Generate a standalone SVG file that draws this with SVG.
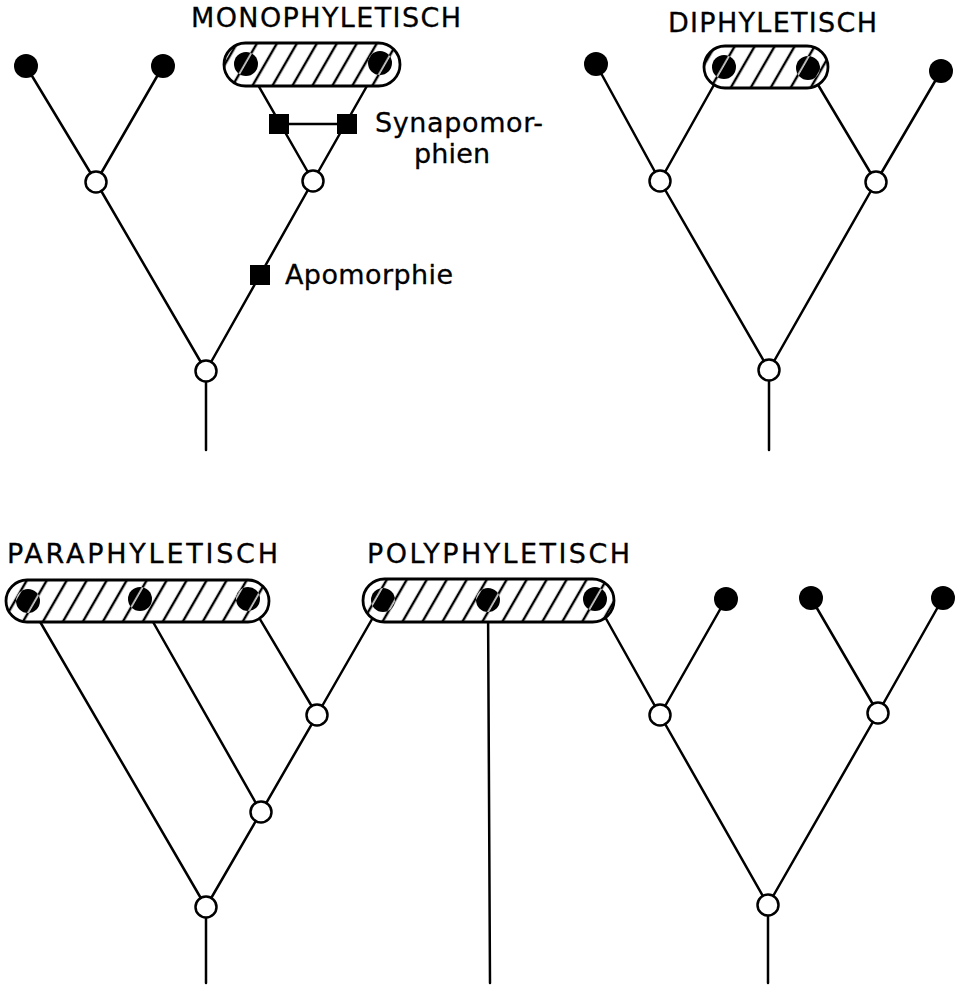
<svg xmlns="http://www.w3.org/2000/svg" width="958" height="985" viewBox="0 0 958 985">
<style>
.br{stroke:#000;stroke-width:2.5;fill:none;stroke-linecap:round}
.leaf{fill:#000}
.inleaf{fill:url(#whatch)}
.anc{fill:#fff;stroke:#000;stroke-width:2.5}
.apo{fill:#000}
.pill{fill:url(#hatch);stroke:#000;stroke-width:2.8}
.t{font-family:"DejaVu Sans","Liberation Sans",sans-serif;font-size:27px;fill:#000;stroke:#000;stroke-width:0.3}
</style>
<defs>
<pattern id="hatch" patternUnits="userSpaceOnUse" width="17.3" height="20" patternTransform="rotate(30)">
<rect width="17.3" height="20" fill="#fff"/>
<line x1="2" y1="-1" x2="2" y2="21" stroke="#000" stroke-width="2.4"/>
</pattern>
<pattern id="whatch" patternUnits="userSpaceOnUse" width="17.3" height="20" patternTransform="rotate(30)">
<rect width="17.3" height="20" fill="#000"/>
<line x1="2" y1="-1" x2="2" y2="21" stroke="#fff" stroke-width="1.4"/>
</pattern>
</defs>
<rect width="958" height="985" fill="#fff"/>

<g id="connectors">
<line class="br" x1="26" y1="66" x2="96" y2="182"/>
<line class="br" x1="163" y1="66" x2="96" y2="182"/>
<line class="br" x1="96" y1="182" x2="206" y2="371"/>
<line class="br" x1="313" y1="181" x2="206" y2="371"/>
<line class="br" x1="246" y1="64" x2="313" y2="181"/>
<line class="br" x1="380" y1="63" x2="313" y2="181"/>
<line class="br" x1="279" y1="124" x2="347" y2="124"/>
<line class="br" x1="206" y1="371" x2="206" y2="450"/>
<line class="br" x1="596" y1="64" x2="660" y2="181"/>
<line class="br" x1="724" y1="67" x2="660" y2="181"/>
<line class="br" x1="808" y1="68" x2="876" y2="182"/>
<line class="br" x1="941" y1="71" x2="876" y2="182"/>
<line class="br" x1="660" y1="181" x2="769" y2="370"/>
<line class="br" x1="876" y1="182" x2="769" y2="370"/>
<line class="br" x1="769" y1="370" x2="769" y2="450"/>
<line class="br" x1="28" y1="601" x2="206" y2="907"/>
<line class="br" x1="140" y1="599" x2="261" y2="812"/>
<line class="br" x1="248" y1="599" x2="317" y2="715"/>
<line class="br" x1="383" y1="600" x2="317" y2="715"/>
<line class="br" x1="317" y1="715" x2="261" y2="812"/>
<line class="br" x1="261" y1="812" x2="206" y2="907"/>
<line class="br" x1="206" y1="907" x2="206" y2="983"/>
<line class="br" x1="488" y1="600" x2="490" y2="983"/>
<line class="br" x1="595" y1="599" x2="660" y2="715"/>
<line class="br" x1="726" y1="599" x2="660" y2="715"/>
<line class="br" x1="811" y1="598" x2="878" y2="713"/>
<line class="br" x1="943" y1="598" x2="878" y2="713"/>
<line class="br" x1="660" y1="715" x2="768" y2="905"/>
<line class="br" x1="878" y1="713" x2="768" y2="905"/>
<line class="br" x1="768" y1="905" x2="768" y2="983"/>
</g>

<g id="mono-group"><rect class="pill" x="224" y="43" width="176" height="43" rx="21.5"/></g>
<g id="di-group"><rect class="pill" x="704" y="46" width="124" height="42" rx="21"/></g>
<g id="para-group"><rect class="pill" x="6" y="580" width="263" height="42" rx="21"/></g>
<g id="poly-group"><rect class="pill" x="363" y="579" width="251" height="43" rx="21.5"/></g>

<g id="m-leaf1"><circle class="leaf" cx="26" cy="66" r="12"/></g>
<g id="m-leaf2"><circle class="leaf" cx="163" cy="66" r="12"/></g>
<g id="m-leaf3"><circle class="inleaf" cx="246" cy="64" r="12"/></g>
<g id="m-leaf4"><circle class="inleaf" cx="380" cy="63" r="12"/></g>
<g id="m-anc1"><circle class="anc" cx="96" cy="182" r="10.5"/></g>
<g id="m-anc2"><circle class="anc" cx="313" cy="181" r="10.5"/></g>
<g id="m-root"><circle class="anc" cx="206" cy="371" r="10.5"/></g>
<g id="m-syn1"><rect class="apo" x="269" y="114" width="20" height="20"/></g>
<g id="m-syn2"><rect class="apo" x="337" y="114" width="20" height="20"/></g>
<g id="m-apo"><rect class="apo" x="250" y="265" width="20" height="20"/></g>

<g id="d-leaf1"><circle class="leaf" cx="596" cy="64" r="12"/></g>
<g id="d-leaf2"><circle class="inleaf" cx="724" cy="67" r="12"/></g>
<g id="d-leaf3"><circle class="inleaf" cx="808" cy="68" r="12"/></g>
<g id="d-leaf4"><circle class="leaf" cx="941" cy="71" r="12"/></g>
<g id="d-anc1"><circle class="anc" cx="660" cy="181" r="10.5"/></g>
<g id="d-anc2"><circle class="anc" cx="876" cy="182" r="10.5"/></g>
<g id="d-root"><circle class="anc" cx="769" cy="370" r="10.5"/></g>

<g id="p-leaf1"><circle class="inleaf" cx="28" cy="601" r="12"/></g>
<g id="p-leaf2"><circle class="inleaf" cx="140" cy="599" r="12"/></g>
<g id="p-leaf3"><circle class="inleaf" cx="248" cy="599" r="12"/></g>
<g id="p-anc1"><circle class="anc" cx="317" cy="715" r="10.5"/></g>
<g id="p-anc2"><circle class="anc" cx="261" cy="812" r="10.5"/></g>
<g id="p-root"><circle class="anc" cx="206" cy="907" r="10.5"/></g>

<g id="q-leaf1"><circle class="inleaf" cx="383" cy="600" r="12"/></g>
<g id="q-leaf2"><circle class="inleaf" cx="488" cy="600" r="12"/></g>
<g id="q-leaf3"><circle class="inleaf" cx="595" cy="599" r="12"/></g>
<g id="q-leaf4"><circle class="leaf" cx="726" cy="599" r="12"/></g>
<g id="q-leaf5"><circle class="leaf" cx="811" cy="598" r="12"/></g>
<g id="q-leaf6"><circle class="leaf" cx="943" cy="598" r="12"/></g>
<g id="q-anc1"><circle class="anc" cx="660" cy="715" r="10.5"/></g>
<g id="q-anc2"><circle class="anc" cx="878" cy="713" r="10.5"/></g>
<g id="q-root"><circle class="anc" cx="768" cy="905" r="10.5"/></g>

<g id="labels">
<text class="t" x="191" y="27" textLength="270" lengthAdjust="spacing">MONOPHYLETISCH</text>
<text class="t" x="668" y="32" textLength="209" lengthAdjust="spacing">DIPHYLETISCH</text>
<text class="t" x="7" y="563" textLength="271" lengthAdjust="spacing">PARAPHYLETISCH</text>
<text class="t" x="367" y="563" textLength="263" lengthAdjust="spacing">POLYPHYLETISCH</text>
<text class="t" x="375" y="132" textLength="168" lengthAdjust="spacing">Synapomor-</text>
<text class="t" x="414" y="163" textLength="76" lengthAdjust="spacing">phien</text>
<text class="t" x="285" y="284" textLength="168" lengthAdjust="spacing">Apomorphie</text>
</g>
</svg>
